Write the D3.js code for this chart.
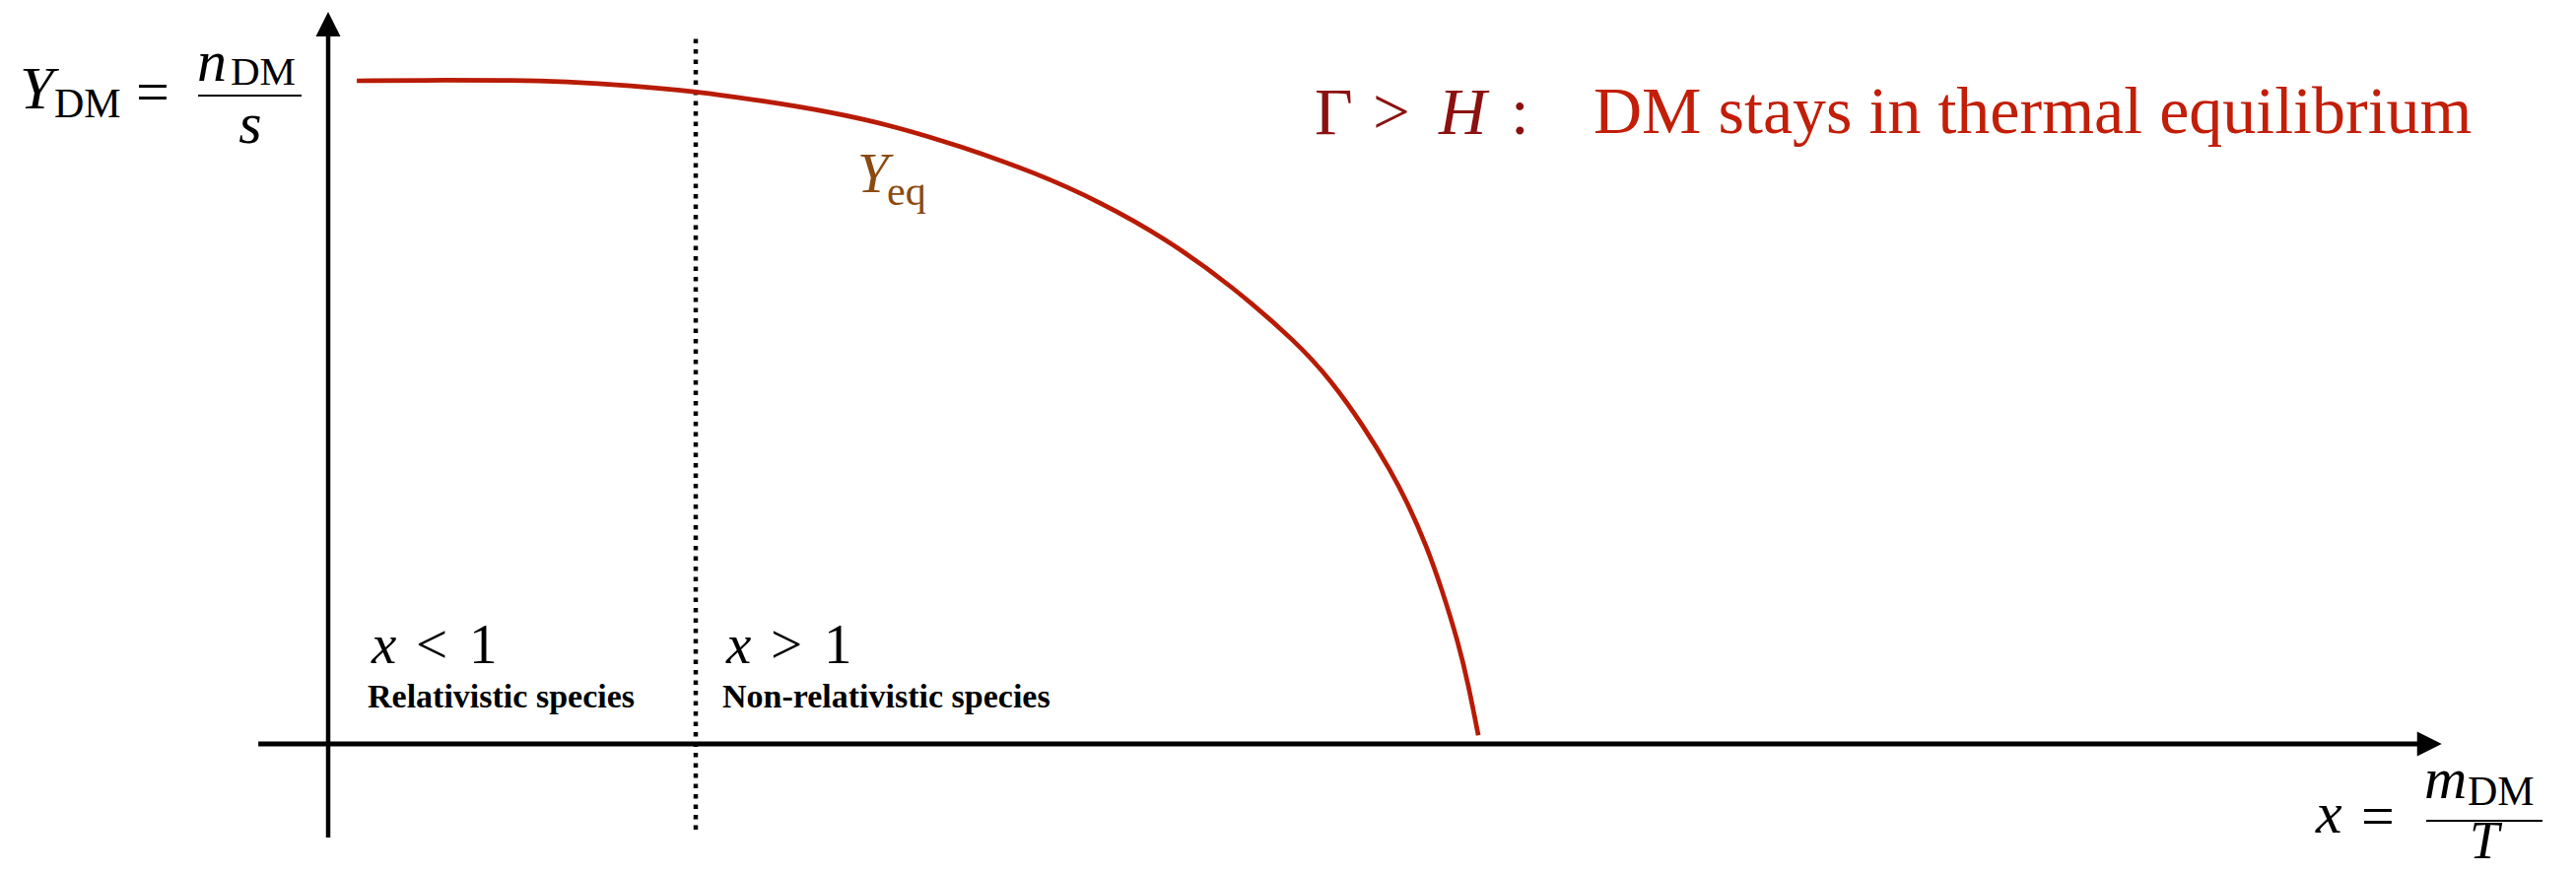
<!DOCTYPE html>
<html>
<head>
<meta charset="utf-8">
<script src="https://cdn.jsdelivr.net/npm/d3@7"></script>
<style>
  html, body { margin: 0; padding: 0; background: #ffffff; }
  svg { display: block; }
  text { font-family: "Liberation Serif", "Times New Roman", serif; }
</style>
</head>
<body>
<svg id="chart" width="2614" height="886"></svg>
<script>
// ---- data (schematic x = m_DM / T, Y normalised to its plateau) ----
const xValues = [0.078, 0.332, 0.501, 0.643, 0.823, 1.000, 1.180, 1.359, 1.539, 1.716,
                 1.922, 2.102, 2.279, 2.458, 2.638, 2.727, 2.815, 2.893, 2.941, 2.987,
                 3.029, 3.075, 3.102, 3.129];
const yEqValues = [1.000, 1.001, 1.001, 0.999, 0.993, 0.984, 0.970, 0.954, 0.932, 0.902,
                   0.862, 0.817, 0.762, 0.691, 0.604, 0.549, 0.481, 0.410, 0.358, 0.300,
                   0.235, 0.152, 0.089, 0.013];
const xAxisExtent = [-0.19, 5.75];
const yAxisExtent = [-0.141, 1.104];
const boundaryX = [1];
const boundaryExtent = [-0.137, 1.063];
const regionMath = ["<", ">"];
const regionNames = ["Relativistic species", "Non-relativistic species"];
const titleText = "DM stays in thermal equilibrium";

// ---- scales ----
const x = d3.scaleLinear().domain([0, 1]).range([333, 706]);
const y = d3.scaleLinear().domain([0, 1]).range([755, 82]);

const svg = d3.select("#chart");
svg.append("rect").attr("width", 2614).attr("height", 886).attr("fill", "#ffffff");

const curveColor = "#b81b04";

// ---- axes (arrows) ----
const x0 = x(xAxisExtent[0]), x1 = x(xAxisExtent[1]);
svg.append("line")
  .attr("x1", x0).attr("x2", x1 - 20)
  .attr("y1", y(0)).attr("y2", y(0))
  .attr("stroke", "#000").attr("stroke-width", 5);
svg.append("path")
  .attr("d", `M${x1},${y(0)} L${x1 - 25},${y(0) - 12.5} L${x1 - 25},${y(0) + 12.5} Z`)
  .attr("fill", "#000");

const yb = y(yAxisExtent[0]), yt = y(yAxisExtent[1]);
svg.append("line")
  .attr("x1", x(0)).attr("x2", x(0))
  .attr("y1", yb).attr("y2", yt + 20)
  .attr("stroke", "#000").attr("stroke-width", 4.5);
svg.append("path")
  .attr("d", `M${x(0)},${yt} L${x(0) - 12.5},${yt + 25} L${x(0) + 12.5},${yt + 25} Z`)
  .attr("fill", "#000");

// ---- boundary x = 1 (dotted) ----
svg.selectAll("line.boundary").data(boundaryX).join("line")
  .attr("class", "boundary")
  .attr("x1", d => x(d)).attr("x2", d => x(d))
  .attr("y1", y(boundaryExtent[1])).attr("y2", y(boundaryExtent[0]))
  .attr("stroke", "#000").attr("stroke-width", 4.5)
  .attr("stroke-dasharray", "4.5 6");

// ---- Y_eq curve ----
const pts = xValues.map((v, i) => [v, yEqValues[i]]);
const line = d3.line().x(d => x(d[0])).y(d => y(d[1])).curve(d3.curveBasis);
svg.append("path")
  .attr("d", line(pts))
  .attr("fill", "none")
  .attr("stroke", curveColor)
  .attr("stroke-width", 4.7)
  .attr("stroke-linecap", "butt");

// ---- helper for math-like text ----
function addText(px, py, str, size, opts = {}) {
  return svg.append("text")
    .attr("x", px).attr("y", py)
    .attr("font-size", size)
    .attr("font-style", opts.italic ? "italic" : "normal")
    .attr("font-weight", opts.bold ? "bold" : "normal")
    .attr("fill", opts.fill || "#000")
    .attr("text-anchor", opts.anchor || "start")
    .text(str);
}

// Y axis label: Y_DM = n_DM / s
addText(20, 110, "Y", 62, { italic: true });
addText(55, 119, "DM", 42);
addText(138, 113, "=", 60);
addText(200, 82, "n", 60, { italic: true });
addText(234, 86, "DM", 41);
svg.append("line").attr("x1", 201).attr("x2", 306).attr("y1", 97).attr("y2", 97)
  .attr("stroke", "#000").attr("stroke-width", 2);
addText(254, 145, "s", 60, { italic: true, anchor: "middle" });

// X axis label: x = m_DM / T
addText(2350, 845, "x", 60, { italic: true });
addText(2396, 848, "=", 60);
addText(2460, 810, "m", 60, { italic: true });
addText(2504, 817, "DM", 42);
svg.append("line").attr("x1", 2462).attr("x2", 2580).attr("y1", 833).attr("y2", 833)
  .attr("stroke", "#000").attr("stroke-width", 2);
addText(2521, 871, "T", 54, { italic: true, anchor: "middle" });

// Y_eq label
addText(870, 195, "Y", 57, { italic: true, fill: "#8c4a10" });
addText(900, 208, "eq", 42, { fill: "#8c4a10" });

// Title
const dark = "#8c1010", red = "#c21e08";
addText(1334, 136, "\u0393", 67, { fill: dark });
addText(1393, 136, ">", 67, { fill: dark });
addText(1460, 136, "H", 67, { italic: true, fill: dark });
addText(1533, 136, ":", 67, { fill: dark });
addText(1617, 135, titleText, 68, { fill: red });

// Region labels
const regionX = [377, 737];
regionX.forEach((rx, i) => {
  addText(rx, 673, "x", 57, { italic: true });
  addText(rx + 45, 673, regionMath[i], 57);
  addText(rx + 99, 673, "1", 57);
  addText(rx - 4, 718, regionNames[i], 34, { bold: true });
});
</script>
</body>
</html>
